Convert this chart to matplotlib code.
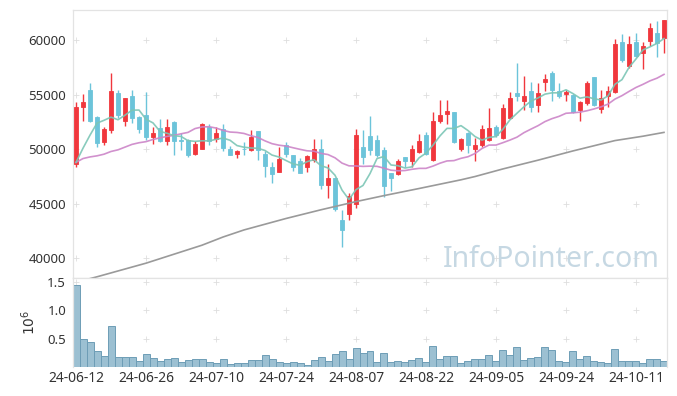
import matplotlib
matplotlib.use("Agg")
import matplotlib.pyplot as plt
import numpy as np
import pandas as pd

plt.rcParams['font.family'] = ['Noto Sans', 'DejaVu Sans']

# daily candles, 24-06-12 .. 24-10-17 (85 trading days)
opens = [48650, 53900, 55450, 53000, 50700, 51750, 55150, 52550, 54900, 52950,
         53150, 51150, 51950, 50800, 52500, 50850, 50850, 49600, 50050, 52050,
         50900, 51900, 50000, 49600, 50050, 49950, 51700, 49600, 48400, 47950,
         50350, 49450, 48950, 48400, 49000, 50050, 46750, 47350, 43500, 44050,
         44950, 50250, 51200, 50850, 49950, 47850, 47750, 49300, 48900, 49750,
         51300, 49000, 52550, 53250, 53400, 50050, 51500, 50050, 50350, 50850,
         52000, 51000, 52850, 55200, 54450, 55350, 54050, 56200, 57000, 55350,
         55050, 55000, 53600, 54250, 56600, 53700, 54850, 55300, 59800, 57600,
         59800, 58850, 59950, 60650, 60200]
highs = [54300, 55050, 56050, 53050, 52000, 57000, 55450, 54750, 55450, 53050,
         55250, 52000, 52800, 52750, 52550, 51500, 50950, 50800, 52400, 52350,
         52050, 52300, 50300, 49900, 50700, 51750, 51700, 49850, 48800, 50200,
         50700, 49500, 49200, 49500, 50950, 50950, 48650, 47350, 44450, 46000,
         51850, 51750, 53050, 51300, 50250, 47850, 49150, 49300, 50400, 51400,
         51600, 53400, 54550, 54500, 53450, 51000, 51600, 51000, 52250, 53750,
         52200, 54150, 55300, 57950, 56700, 56200, 56100, 56900, 57200, 56050,
         55450, 55100, 54400, 56250, 56650, 55450, 55800, 60100, 60550, 60350,
         60650, 59800, 61550, 61800, 61850]
lows = [48350, 52600, 52500, 50250, 50400, 51500, 52850, 52100, 52450, 51450,
        50850, 50500, 50650, 50350, 49450, 49950, 49250, 49450, 50000, 50350,
        50700, 49800, 49450, 49200, 49500, 49800, 49000, 47450, 46900, 47900,
        49300, 48000, 47800, 47900, 48850, 46400, 45550, 44350, 41050, 43550,
        44600, 48650, 49500, 49300, 45650, 46200, 47600, 48400, 48400, 49650,
        49450, 48950, 52400, 52300, 50550, 49850, 49650, 48950, 50250, 50800,
        51150, 50950, 52800, 54450, 53600, 53450, 53400, 55350, 54450, 54700,
        54450, 53300, 52600, 54050, 53950, 53300, 53900, 55150, 58050, 57450,
        58500, 57350, 59450, 58500, 58850]
closes = [53900, 54350, 52600, 50600, 51850, 55350, 53150, 54700, 52900, 51900,
          51150, 51450, 50800, 52050, 50800, 50800, 49500, 50500, 52300, 50750,
          51500, 50100, 49500, 49850, 50000, 51150, 49950, 48500, 47750, 49100,
          49550, 48400, 47850, 49400, 50050, 46750, 47400, 44500, 42600, 45700,
          51300, 49300, 49950, 49500, 46650, 47400, 48950, 48900, 50050, 50750,
          49600, 52600, 53150, 53500, 50700, 50900, 50350, 50400, 51850, 51950,
          51300, 53750, 54700, 54850, 54900, 53900, 55200, 56450, 55450, 54900,
          55300, 53450, 54350, 56050, 54050, 54700, 55350, 59700, 58150, 59650,
          58600, 59500, 61100, 59750, 61850]
volumes = [1446000, 494000, 446000, 286000, 196000, 726000, 173000, 173000, 173000, 107000,
           226000, 161000, 107000, 137000, 155000, 89000, 125000, 137000, 137000, 89000,
           71000, 137000, 48000, 65000, 65000, 125000, 125000, 208000, 137000, 89000,
           71000, 89000, 65000, 36000, 125000, 173000, 107000, 226000, 286000, 137000,
           333000, 244000, 286000, 83000, 244000, 83000, 101000, 83000, 119000, 155000,
           83000, 369000, 137000, 190000, 190000, 65000, 101000, 137000, 137000, 208000,
           101000, 298000, 208000, 351000, 119000, 155000, 173000, 351000, 298000, 101000,
           83000, 280000, 137000, 190000, 101000, 83000, 65000, 315000, 101000, 101000,
           101000, 65000, 137000, 137000, 101000]

# moving averages before enough in-range history exists
ma5_head = [48800, 50100, 51300, 52400]
ma20_head = [48800, 49150, 49300, 49400, 49550, 49800, 49950, 50200, 50450, 50600,
             50700, 50900, 51050, 51180, 51280, 51420, 51550, 51900, 52050]
# 120-day average
ma120_idx = [0, 3, 10, 18, 21, 24, 30, 35, 40, 44, 49, 52, 55, 57, 61, 66, 71, 77, 81, 84]
ma120_val = [37800, 38300, 39550, 41200, 41950, 42600, 43650, 44450, 45200, 45750,
             46400, 46800, 47200, 47500, 48200, 49000, 49850, 50800, 51200, 51550]

tick_idx = [0, 10, 20, 30, 40, 50, 60, 70, 80]
tick_labels = ["24-06-12", "24-06-26", "24-07-10", "24-07-24", "24-08-07",
               "24-08-22", "24-09-05", "24-09-24", "24-10-11"]

UP = '#F0373D'
DOWN = '#6CC4DA'

df = pd.DataFrame({"open": opens, "high": highs, "low": lows,
                   "close": closes, "volume": volumes})
x = np.arange(len(df))
ma5 = df["close"].rolling(5).mean().to_numpy()
ma5[:4] = ma5_head
ma20 = df["close"].rolling(20).mean().to_numpy()
ma20[:19] = ma20_head

fig = plt.figure(figsize=(6.77, 3.96), dpi=100)
W, H = 677, 396
ax = fig.add_axes([73 / W, 1 - 278 / H, 594 / W, 268 / H])
axv = fig.add_axes([73 / W, 1 - 367 / H, 594 / W, 89 / H], sharex=ax)

up = df["close"] >= df["open"]
colors = np.where(up, UP, DOWN)

# wicks + bodies
ax.vlines(x, df["low"], df["high"], colors=colors, lw=1.0, zorder=2)
body_lo = np.minimum(df["open"], df["close"])
body_h = np.abs(df["close"] - df["open"])
ax.bar(x, body_h, bottom=body_lo, width=0.66, color=colors,
       edgecolor=colors, linewidth=0.6, zorder=3)

# moving averages
ax.plot(ma120_idx, ma120_val, color='#9a9a9a', lw=1.2, zorder=4)
ax.plot(x, ma20, color='#CC85C8', lw=1.2, alpha=0.9, zorder=4)
ax.plot(x, ma5, color='#7CC6B6', lw=1.2, alpha=0.9, zorder=4)

ax.set_xlim(-0.43, 84.43)
ax.set_ylim(38190, 62780)
yt = [40000, 45000, 50000, 55000, 60000]
ax.set_yticks(yt)
ax.set_yticklabels([str(v) for v in yt])

# grid crosses at tick intersections
gx, gy = np.meshgrid(tick_idx, yt)
ax.plot(gx.ravel(), gy.ravel(), ls='none', marker='+', ms=4, mew=0.6,
        color='#dedede', zorder=1)

ax.text((660 - 73) / 594, (278 - 267) / 268, "InfoPointer.com",
        transform=ax.transAxes, ha='right', va='baseline', fontsize=20.5,
        color='#C6D8E3', zorder=1)

# volume
vol_m = df["volume"] / 1e6
axv.bar(x, vol_m, width=1.0, color='#9CC0D2', edgecolor='#6E9DB6',
        linewidth=0.7, zorder=2)
axv.set_ylim(0, 1.57)
vt = [0.5, 1.0, 1.5]
axv.set_yticks(vt)
axv.set_yticklabels(["0.5", "1.0", "1.5"])
vx, vy = np.meshgrid(tick_idx, vt)
axv.plot(vx.ravel(), vy.ravel(), ls='none', marker='+', ms=4, mew=0.6,
         color='#dedede', zorder=1)
axv.set_xticks(tick_idx)
axv.set_xticklabels(tick_labels)
fig.text(30 / W, 1 - 322 / H, r'$10^6$', rotation=90, ha='center',
         va='center', fontsize=10, color='#333333')

for a in (ax, axv):
    a.tick_params(length=0, labelsize=9.5, colors='#333333', pad=5)
    for s in a.spines.values():
        s.set_color('#e3e3e3')
        s.set_linewidth(0.9)
plt.setp(ax.get_xticklabels(), visible=False)
axv.spines['bottom'].set_visible(False)
axv.tick_params(axis='x', pad=3, labelsize=10)

fig.savefig("out.png", dpi=100)
